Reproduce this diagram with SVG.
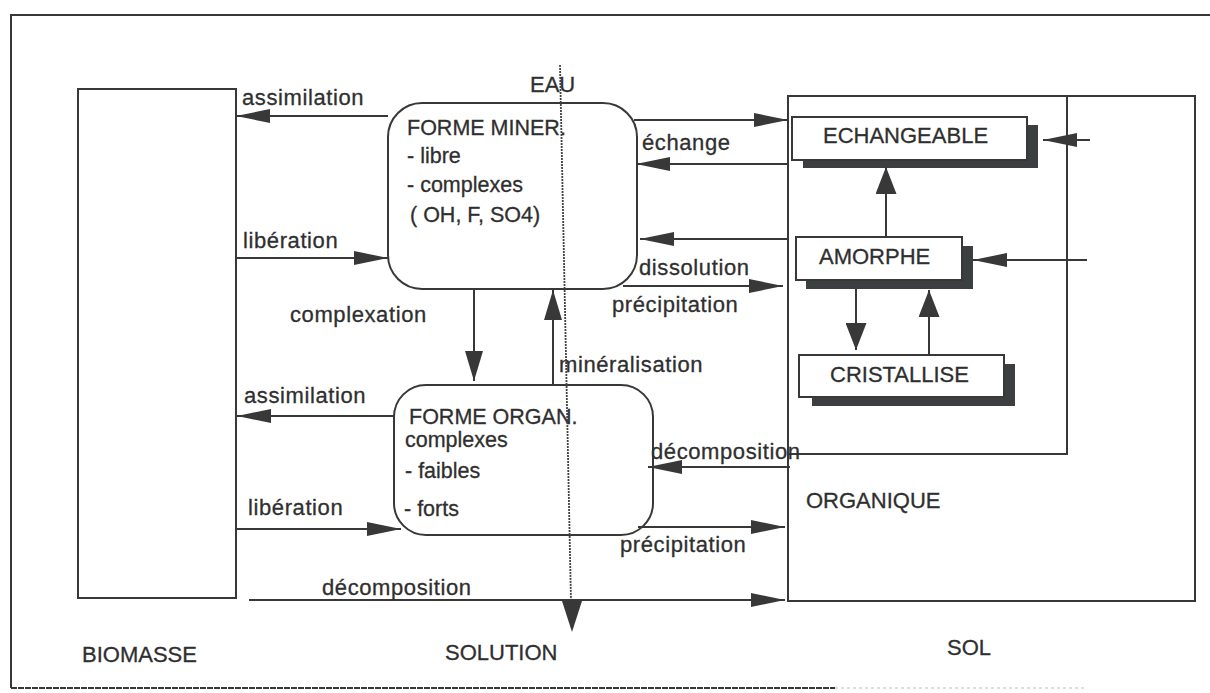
<svg xmlns="http://www.w3.org/2000/svg" width="1210" height="693" viewBox="0 0 1210 693">
  <defs>
    <style>
      .ln { stroke: #383838; stroke-width: 2; fill: none; }
      .box { stroke: #383838; stroke-width: 2; fill: #ffffff; }
      .shadow { fill: #3c3f3f; }
      .t { font-family: "Liberation Sans", Arial, sans-serif; font-size: 22px; fill: #2f2f2f; stroke: #2f2f2f; stroke-width: 0.3px; }
      .lc { letter-spacing: 0.6px; }
      .bt { font-size: 21.5px; }
      .arr { marker-end: url(#ah); }
      .arrv { marker-end: url(#ahv); }
      .arrs { marker-end: url(#ahs); }
    </style>
    <!-- long, slim arrowhead for horizontal flows -->
    <marker id="ah" viewBox="0 0 34 14" refX="34" refY="7" markerWidth="34" markerHeight="14" markerUnits="userSpaceOnUse" orient="auto">
      <path d="M0,0 L34,7 L0,14 Z" fill="#383838"/>
    </marker>
    <!-- heads for the vertical links between the two forms -->
    <marker id="ahv" viewBox="0 0 30 18" refX="30" refY="9" markerWidth="30" markerHeight="18" markerUnits="userSpaceOnUse" orient="auto">
      <path d="M0,0 L30,9 L0,18 Z" fill="#383838"/>
    </marker>
    <!-- short, wide heads inside the soil compartment -->
    <marker id="ahs" viewBox="0 0 27 21" refX="27" refY="10.5" markerWidth="27" markerHeight="21" markerUnits="userSpaceOnUse" orient="auto">
      <path d="M0,0 L27,10.5 L0,21 Z" fill="#383838"/>
    </marker>
  </defs>

  <rect width="1210" height="693" fill="#ffffff"/>

  <!-- outer frame -->
  <g id="frame">
    <line class="ln" x1="11" y1="15" x2="1210" y2="15"/>
    <line class="ln" x1="11" y1="14" x2="11" y2="688"/>
    <line class="ln" x1="11" y1="688" x2="835" y2="688" stroke-dasharray="6 1"/>
    <line x1="835" y1="688" x2="1085" y2="688" stroke="#bdbdbd" stroke-width="1" stroke-dasharray="3 3"/>
  </g>

  <!-- biomass compartment -->
  <g id="biomasse">
    <rect class="box" x="78" y="89" width="158" height="509"/>
    <text class="t" x="82" y="662">BIOMASSE</text>
  </g>

  <!-- water / solution divider labels -->
  <g id="eau">
    <text class="t" x="530" y="92">EAU</text>
    <text class="t" x="445" y="660">SOLUTION</text>
  </g>

  <!-- mineral form in solution -->
  <g id="forme-miner">
    <rect class="box" x="388" y="103" width="249" height="186" rx="34" ry="34"/>
    <text class="t bt" x="407" y="135">FORME MINER.</text>
    <text class="t bt" x="407" y="163">- libre</text>
    <text class="t bt" x="407" y="192">- complexes</text>
    <text class="t bt" x="410" y="222">( OH, F, SO4)</text>
  </g>

  <!-- organic form in solution -->
  <g id="forme-organ">
    <rect class="box" x="394" y="385" width="259" height="150" rx="32" ry="32"/>
    <text class="t bt" x="409" y="424">FORME ORGAN.</text>
    <text class="t bt" x="405" y="447">complexes</text>
    <text class="t bt" x="405" y="478">- faibles</text>
    <text class="t bt" x="404" y="516">- forts</text>
  </g>

  <!-- soil compartment -->
  <g id="sol">
    <rect class="ln" x="788" y="96" width="407" height="505"/>
    <polyline class="ln" points="1067,96 1067,454 788,454"/>
    <text class="t" x="806" y="508">ORGANIQUE</text>
    <text class="t" x="947" y="655">SOL</text>
  </g>

  <g id="echangeable">
    <rect class="shadow" x="803" y="125" width="235" height="43"/>
    <rect class="box" x="792" y="117" width="235" height="43"/>
    <text class="t" x="823" y="143">ECHANGEABLE</text>
  </g>

  <g id="amorphe">
    <rect class="shadow" x="806" y="246" width="167" height="43"/>
    <rect class="box" x="796" y="237" width="166" height="43"/>
    <text class="t" x="819" y="264">AMORPHE</text>
  </g>

  <g id="cristallise">
    <rect class="shadow" x="812" y="364" width="203" height="42"/>
    <rect class="box" x="799" y="355" width="205" height="42"/>
    <text class="t" x="830" y="382">CRISTALLISE</text>
  </g>

  <!-- flows -->
  <g id="connectors">
    <!-- water divider line with its downward head -->
    <line x1="560" y1="65" x2="571" y2="602" stroke="#444" stroke-width="1.8" stroke-dasharray="2 1"/>
    <polygon points="562,601 582,601 572,632" fill="#383838"/>

    <line class="ln arr" x1="388" y1="116" x2="236" y2="116"/>
    <line class="ln arr" x1="237" y1="258" x2="388" y2="258"/>
    <line class="ln arr" x1="634" y1="120" x2="788" y2="120"/>
    <line class="ln arr" x1="788" y1="164" x2="636" y2="164"/>
    <line class="ln arr" x1="788" y1="239" x2="640" y2="239"/>
    <line class="ln arr" x1="623" y1="286" x2="783" y2="286"/>

    <line class="ln arrv" x1="474" y1="290" x2="474" y2="381"/>
    <line class="ln arrv" x1="553" y1="385" x2="553" y2="290"/>

    <line class="ln arr" x1="394" y1="416" x2="237" y2="416"/>
    <line class="ln arr" x1="237" y1="529" x2="401" y2="529"/>
    <line class="ln arr" x1="790" y1="467" x2="648" y2="467"/>
    <line class="ln arr" x1="638" y1="527" x2="785" y2="527"/>
    <line class="ln arr" x1="249" y1="600" x2="785" y2="600"/>

    <line class="ln arrs" x1="886" y1="237" x2="886" y2="167"/>
    <line class="ln arrs" x1="856" y1="289" x2="856" y2="350"/>
    <line class="ln arrs" x1="929" y1="355" x2="929" y2="290"/>
    <line class="ln arr" x1="1090" y1="140" x2="1043" y2="140"/>
    <line class="ln arr" x1="1087" y1="260" x2="973" y2="260"/>
  </g>

  <!-- flow labels -->
  <g id="labels">
    <text class="t lc" x="242" y="105">assimilation</text>
    <text class="t lc" x="243" y="248">libération</text>
    <text class="t lc" x="290" y="322">complexation</text>
    <text class="t lc" x="642" y="150">échange</text>
    <text class="t lc" x="639" y="275">dissolution</text>
    <text class="t lc" x="612" y="312">précipitation</text>
    <text class="t lc" x="559" y="372">minéralisation</text>
    <text class="t lc" x="244" y="403">assimilation</text>
    <text class="t lc" x="248" y="515">libération</text>
    <text class="t lc" x="651" y="459">décomposition</text>
    <text class="t lc" x="620" y="552">précipitation</text>
    <text class="t lc" x="322" y="595">décomposition</text>
  </g>
</svg>
